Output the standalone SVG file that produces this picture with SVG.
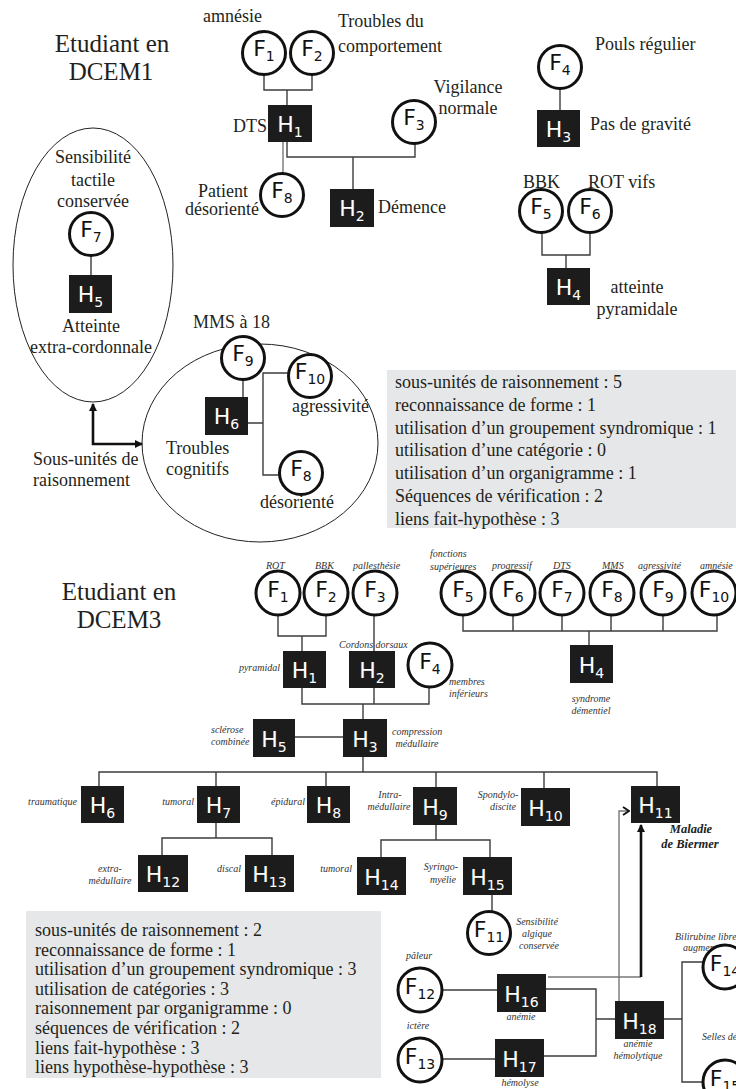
<svg xmlns="http://www.w3.org/2000/svg" width="736" height="1089" viewBox="0 0 736 1089">
<style>
.bg{fill:#fff}
.lbl{font-family:"Liberation Serif",serif;font-size:18px;fill:#231f20}
.ttl{font-size:25px}
.mid{text-anchor:middle}
.end{text-anchor:end}
.it{font-family:"Liberation Serif",serif;font-style:italic;font-size:10px;fill:#333}
.bi{font-family:"Liberation Serif",serif;font-style:italic;font-weight:bold;font-size:12.5px;fill:#222}
.hb{fill:#1c1c1c}
.ht{font-family:"DejaVu Sans",sans-serif;font-size:22px;fill:#fff;text-anchor:middle}
.fc{fill:#fff;stroke:#111;stroke-width:3}
.ft{font-family:"DejaVu Sans",sans-serif;font-size:22px;fill:#111;text-anchor:middle}
.sub{font-size:14px}
.ln{fill:none;stroke:#3c3c3c;stroke-width:1.4}
.gr{fill:none;stroke:#777;stroke-width:1.4}
.thick{fill:none;stroke:#111;stroke-width:2.6}
.cl{fill:none;stroke:#222;stroke-width:1}
.box{fill:#e6e7e8}
</style>
<defs>
<marker id="tri" viewBox="0 0 8 8" refX="7" refY="4" markerWidth="8" markerHeight="8" markerUnits="userSpaceOnUse" orient="auto-start-reverse"><path d="M0,0 L8,4 L0,8 z" fill="#111"/></marker>
<marker id="chev" viewBox="0 0 8 10" refX="7" refY="5" markerWidth="8" markerHeight="10" markerUnits="userSpaceOnUse" orient="auto"><path d="M1,1 L7,5 L1,9" fill="none" stroke="#111" stroke-width="1.8"/></marker>
</defs>
<rect class="bg" x="0" y="0" width="736" height="1089"/>

<!-- ===== DCEM1 ===== -->
<g id="title-dcem1">
<text class="lbl ttl mid" x="112" y="52">Etudiant en</text>
<text class="lbl ttl mid" x="111" y="80">DCEM1</text>
</g>
<g id="clusters-dcem1">
<ellipse class="cl" cx="93" cy="265" rx="80" ry="137"/>
<ellipse class="cl" cx="260" cy="443" rx="118" ry="99"/>
</g>

<g id="connectors">
<!-- DCEM1 -->
<path class="ln" d="M264,75 V90 H312 V75 M287,90 V105"/>
<path class="ln" d="M287,142 V157 H415 V143 M353,157 V189"/>
<path class="gr" d="M283,142 V173"/>
<path class="ln" d="M560,88 V110"/>
<path class="ln" d="M542,232 V255 H590 V232 M566,255 V268"/>
<path class="ln" d="M91,256 V275"/>
<path class="ln" d="M243,379 V397"/>
<path class="ln" d="M248,423 H263 M289,373 H263 V475 H280"/>
<path class="thick" d="M93,404 V444 H142" marker-start="url(#tri)" marker-end="url(#tri)"/>
<!-- DCEM3 -->
<path class="ln" d="M278,615 V636 H326 V615 M302,636 V651"/>
<path class="ln" d="M374,615 V651"/>
<path class="ln" d="M302,688 V704 H429 V687 M374,688 V704 M363,704 V719"/>
<path class="ln" d="M295,737 H343"/>
<path class="ln" d="M463,615 V631 H717 V615 M513,615 V631 M562,615 V631 M611,615 V631 M663,615 V631 M589,631 V645"/>
<path class="ln" d="M363,757 V772 M99,786 V772 H657 V786 M216,772 V786 M326,772 V786 M436,772 V787 M544,772 V788"/>
<path class="ln" d="M216,823 V838 M162,855 V838 H272 V855"/>
<path class="ln" d="M436,825 V840 M381,857 V840 H490 V857"/>
<path class="ln" d="M492,895 V911"/>
<path class="ln" d="M442,990 H497"/>
<path class="ln" d="M442,1059 H495"/>
<path class="ln" d="M546,989 H596 V1056 H544 M596,1019 H615"/>
<path class="ln" d="M664,1019 H682 M703,962 H682 V1082 H703"/>
<path class="gr" d="M619,1001 V811 H629" marker-end="url(#chev)"/>
<path class="gr" d="M548,977 H641"/>
<path class="thick" d="M641,977 V825" marker-end="url(#tri)"/>
</g>

<g id="d1-F1"><circle class="fc" cx="264" cy="53" r="21.5"/><text class="ft" x="264" y="56">F<tspan class="sub" dy="5">1</tspan></text><text class="lbl" x="203" y="22">amnésie</text></g>
<g id="d1-F2"><circle class="fc" cx="312" cy="53" r="21.5"/><text class="ft" x="312" y="56">F<tspan class="sub" dy="5">2</tspan></text><text class="lbl" x="338" y="27">Troubles du</text><text class="lbl" x="338" y="52">comportement</text></g>
<g id="d1-H1"><rect class="hb" x="268" y="105" width="44" height="37"/><text class="ht" x="290" y="132">H<tspan class="sub" dy="5">1</tspan></text><text class="lbl" x="233" y="132">DTS</text></g>
<g id="d1-F3"><circle class="fc" cx="414" cy="122" r="21.5"/><text class="ft" x="414" y="125">F<tspan class="sub" dy="5">3</tspan></text><text class="lbl mid" x="468" y="93">Vigilance</text><text class="lbl mid" x="468" y="114">normale</text></g>
<g id="d1-F8a"><circle class="fc" cx="282" cy="195" r="21.5"/><text class="ft" x="282" y="198">F<tspan class="sub" dy="5">8</tspan></text><text class="lbl mid" x="223" y="197">Patient</text><text class="lbl mid" x="222" y="215">désorienté</text></g>
<g id="d1-H2"><rect class="hb" x="330" y="189" width="44" height="38"/><text class="ht" x="352" y="216">H<tspan class="sub" dy="5">2</tspan></text><text class="lbl" x="378" y="213">Démence</text></g>
<g id="d1-F4"><circle class="fc" cx="560" cy="67" r="21.5"/><text class="ft" x="560" y="70">F<tspan class="sub" dy="5">4</tspan></text><text class="lbl" x="595" y="50">Pouls régulier</text></g>
<g id="d1-H3"><rect class="hb" x="537" y="110" width="43" height="37"/><text class="ht" x="558.5" y="137">H<tspan class="sub" dy="5">3</tspan></text><text class="lbl" x="590" y="130">Pas de gravité</text></g>
<g id="d1-F5"><circle class="fc" cx="541" cy="211" r="21.5"/><text class="ft" x="541" y="214">F<tspan class="sub" dy="5">5</tspan></text><text class="lbl" x="523" y="188">BBK</text></g>
<g id="d1-F6"><circle class="fc" cx="590" cy="211" r="21.5"/><text class="ft" x="590" y="214">F<tspan class="sub" dy="5">6</tspan></text><text class="lbl" x="588" y="188">ROT vifs</text></g>
<g id="d1-H4"><rect class="hb" x="547" y="268" width="43" height="37"/><text class="ht" x="568.5" y="295">H<tspan class="sub" dy="5">4</tspan></text><text class="lbl mid" x="637" y="293">atteinte</text><text class="lbl mid" x="637" y="315">pyramidale</text></g>
<g id="d1-F7"><circle class="fc" cx="91" cy="234" r="21.5"/><text class="ft" x="91" y="237">F<tspan class="sub" dy="5">7</tspan></text><text class="lbl mid" x="93" y="163">Sensibilité</text><text class="lbl mid" x="93" y="186">tactile</text><text class="lbl mid" x="93" y="207">conservée</text></g>
<g id="d1-H5"><rect class="hb" x="69" y="275" width="43" height="38"/><text class="ht" x="90.5" y="302">H<tspan class="sub" dy="5">5</tspan></text><text class="lbl mid" x="91" y="332">Atteinte</text><text class="lbl mid" x="91" y="353">extra-cordonnale</text></g>
<g id="d1-F9"><circle class="fc" cx="243" cy="358" r="21.5"/><text class="ft" x="243" y="361">F<tspan class="sub" dy="5">9</tspan></text><text class="lbl" x="193" y="328">MMS à 18</text></g>
<g id="d1-H6"><rect class="hb" x="205" y="397" width="43" height="38"/><text class="ht" x="226.5" y="424">H<tspan class="sub" dy="5">6</tspan></text><text class="lbl" x="166" y="454">Troubles</text><text class="lbl" x="166" y="475">cognitifs</text></g>
<g id="d1-F10"><circle class="fc" cx="310" cy="376" r="21.5"/><text class="ft" x="310" y="379">F<tspan class="sub" dy="5">10</tspan></text><text class="lbl" x="292" y="412">agressivité</text></g>
<g id="d1-F8b"><circle class="fc" cx="301" cy="473" r="21.5"/><text class="ft" x="301" y="476">F<tspan class="sub" dy="5">8</tspan></text><text class="lbl" x="260" y="508">désorienté</text></g>
<g id="d1-subunits"><text class="lbl" x="33" y="465">Sous-unités de</text><text class="lbl" x="33" y="486">raisonnement</text></g>

<g id="d1-summary">
<rect class="box" x="387" y="370" width="349" height="158"/>
<text class="lbl" x="395" y="388">sous-unités de raisonnement : 5</text>
<text class="lbl" x="395" y="410.8">reconnaissance de forme : 1</text>
<text class="lbl" x="395" y="433.6">utilisation d’un groupement syndromique : 1</text>
<text class="lbl" x="395" y="456.4">utilisation d’une catégorie : 0</text>
<text class="lbl" x="395" y="479.2">utilisation d’un organigramme : 1</text>
<text class="lbl" x="395" y="502">Séquences de vérification : 2</text>
<text class="lbl" x="395" y="524.8">liens fait-hypothèse : 3</text>
</g>

<!-- ===== DCEM3 ===== -->
<g id="title-dcem3">
<text class="lbl ttl mid" x="119" y="600">Etudiant en</text>
<text class="lbl ttl mid" x="119" y="628">DCEM3</text>
</g>
<g id="d3-F1"><circle class="fc" cx="278" cy="593" r="22"/><text class="ft" x="278" y="597">F<tspan class="sub" dy="5">1</tspan></text><text class="it" x="266" y="569">ROT</text></g>
<g id="d3-F2"><circle class="fc" cx="326" cy="593" r="22"/><text class="ft" x="326" y="597">F<tspan class="sub" dy="5">2</tspan></text><text class="it" x="315" y="569">BBK</text></g>
<g id="d3-F3"><circle class="fc" cx="375" cy="593" r="22"/><text class="ft" x="375" y="597">F<tspan class="sub" dy="5">3</tspan></text><text class="it" x="353" y="569">pallesthésie</text></g>
<g id="d3-H1"><rect class="hb" x="283" y="651" width="43" height="37"/><text class="ht" x="304.5" y="678">H<tspan class="sub" dy="5">1</tspan></text><text class="it end" x="280" y="671">pyramidal</text></g>
<g id="d3-H2"><rect class="hb" x="349" y="651" width="46" height="37"/><text class="ht" x="372" y="678">H<tspan class="sub" dy="5">2</tspan></text><text class="it" x="339" y="648">Cordons dorsaux</text></g>
<g id="d3-F4"><circle class="fc" cx="430" cy="665" r="22"/><text class="ft" x="430" y="669">F<tspan class="sub" dy="5">4</tspan></text><text class="it" x="449" y="685">membres</text><text class="it" x="449" y="697">inférieurs</text></g>
<g id="d3-F5"><circle class="fc" cx="463" cy="593" r="22"/><text class="ft" x="463" y="597">F<tspan class="sub" dy="5">5</tspan></text><text class="it" x="430" y="557">fonctions</text><text class="it" x="430" y="570">supérieures</text></g>
<g id="d3-F6"><circle class="fc" cx="513" cy="593" r="22"/><text class="ft" x="513" y="597">F<tspan class="sub" dy="5">6</tspan></text><text class="it" x="492" y="569">progressif</text></g>
<g id="d3-F7"><circle class="fc" cx="562" cy="593" r="22"/><text class="ft" x="562" y="597">F<tspan class="sub" dy="5">7</tspan></text><text class="it" x="553" y="569">DTS</text></g>
<g id="d3-F8"><circle class="fc" cx="612" cy="593" r="22"/><text class="ft" x="612" y="597">F<tspan class="sub" dy="5">8</tspan></text><text class="it" x="602" y="569">MMS</text></g>
<g id="d3-F9"><circle class="fc" cx="663" cy="593" r="22"/><text class="ft" x="663" y="597">F<tspan class="sub" dy="5">9</tspan></text><text class="it" x="638" y="569">agressivité</text></g>
<g id="d3-F10"><circle class="fc" cx="714" cy="593" r="22"/><text class="ft" x="714" y="597">F<tspan class="sub" dy="5">10</tspan></text><text class="it" x="700" y="569">amnésie</text></g>
<g id="d3-H4"><rect class="hb" x="570" y="645" width="43" height="38"/><text class="ht" x="591.5" y="673">H<tspan class="sub" dy="5">4</tspan></text><text class="it mid" x="591" y="702">syndrome</text><text class="it mid" x="591" y="714">démentiel</text></g>
<g id="d3-H5"><rect class="hb" x="253" y="719" width="42" height="38"/><text class="ht" x="274" y="747">H<tspan class="sub" dy="5">5</tspan></text><text class="it" x="211" y="733">sclérose</text><text class="it" x="211" y="745">combinée</text></g>
<g id="d3-H3"><rect class="hb" x="343" y="719" width="44" height="38"/><text class="ht" x="365" y="747">H<tspan class="sub" dy="5">3</tspan></text><text class="it" x="392" y="735">compression</text><text class="it mid" x="417" y="747">médullaire</text></g>
<g id="d3-H6"><rect class="hb" x="81" y="786" width="43" height="37"/><text class="ht" x="102.5" y="813">H<tspan class="sub" dy="5">6</tspan></text><text class="it end" x="77" y="805">traumatique</text></g>
<g id="d3-H7"><rect class="hb" x="197" y="786" width="43" height="37"/><text class="ht" x="218.5" y="813">H<tspan class="sub" dy="5">7</tspan></text><text class="it end" x="194" y="805">tumoral</text></g>
<g id="d3-H8"><rect class="hb" x="307" y="786" width="43" height="37"/><text class="ht" x="328.5" y="813">H<tspan class="sub" dy="5">8</tspan></text><text class="it end" x="305" y="805">épidural</text></g>
<g id="d3-H9"><rect class="hb" x="413" y="787" width="44" height="38"/><text class="ht" x="435" y="815">H<tspan class="sub" dy="5">9</tspan></text><text class="it mid" x="390" y="798">Intra-</text><text class="it mid" x="389" y="810">médullaire</text></g>
<g id="d3-H10"><rect class="hb" x="521" y="788" width="49" height="38"/><text class="ht" x="545.5" y="816">H<tspan class="sub" dy="5">10</tspan></text><text class="it mid" x="498" y="798">Spondylo-</text><text class="it mid" x="503" y="810">discite</text></g>
<g id="d3-H11"><rect class="hb" x="631" y="786" width="49" height="37"/><text class="ht" x="655.5" y="813">H<tspan class="sub" dy="5">11</tspan></text><text class="bi mid" x="691" y="833">Maladie</text><text class="bi mid" x="690" y="848">de Biermer</text></g>
<g id="d3-H12"><rect class="hb" x="138" y="855" width="50" height="37"/><text class="ht" x="163" y="882">H<tspan class="sub" dy="5">12</tspan></text><text class="it mid" x="110" y="872">extra-</text><text class="it mid" x="110" y="884">médullaire</text></g>
<g id="d3-H13"><rect class="hb" x="245" y="855" width="49" height="37"/><text class="ht" x="269.5" y="882">H<tspan class="sub" dy="5">13</tspan></text><text class="it end" x="241" y="872">discal</text></g>
<g id="d3-H14"><rect class="hb" x="357" y="857" width="49" height="38"/><text class="ht" x="381.5" y="885">H<tspan class="sub" dy="5">14</tspan></text><text class="it end" x="352" y="872">tumoral</text></g>
<g id="d3-H15"><rect class="hb" x="463" y="857" width="49" height="38"/><text class="ht" x="487.5" y="885">H<tspan class="sub" dy="5">15</tspan></text><text class="it mid" x="441" y="870">Syringo-</text><text class="it mid" x="443" y="883">myélie</text></g>
<g id="d3-F11"><circle class="fc" cx="489" cy="933" r="21.5"/><text class="ft" x="489" y="937">F<tspan class="sub" dy="5">11</tspan></text><text class="it mid" x="537" y="925">Sensibilité</text><text class="it mid" x="537" y="937">algique</text><text class="it mid" x="539" y="949">conservée</text></g>
<g id="d3-F12"><circle class="fc" cx="420" cy="990" r="22"/><text class="ft" x="420" y="994">F<tspan class="sub" dy="5">12</tspan></text><text class="it mid" x="419" y="959">pâleur</text></g>
<g id="d3-F13"><circle class="fc" cx="420" cy="1060" r="22"/><text class="ft" x="420" y="1064">F<tspan class="sub" dy="5">13</tspan></text><text class="it mid" x="418" y="1029">ictère</text></g>
<g id="d3-H16"><rect class="hb" x="497" y="974" width="49" height="38"/><text class="ht" x="521.5" y="1002">H<tspan class="sub" dy="5">16</tspan></text><text class="it mid" x="521" y="1020">anémie</text></g>
<g id="d3-H17"><rect class="hb" x="495" y="1039" width="49" height="38"/><text class="ht" x="519.5" y="1067">H<tspan class="sub" dy="5">17</tspan></text><text class="it mid" x="520" y="1086">hémolyse</text></g>
<g id="d3-H18"><rect class="hb" x="615" y="1001" width="49" height="38"/><text class="ht" x="639.5" y="1029">H<tspan class="sub" dy="5">18</tspan></text><text class="it mid" x="638" y="1047">anémie</text><text class="it mid" x="638" y="1059">hémolytique</text></g>
<g id="d3-F14"><text class="it" x="675" y="940">Bilirubine libre</text><text class="it" x="683" y="951">augmentée</text><circle class="fc" cx="725" cy="967" r="22"/><text class="ft" x="725" y="971">F<tspan class="sub" dy="5">14</tspan></text></g>
<g id="d3-F15"><text class="it" x="702" y="1040">Selles dé</text><circle class="fc" cx="725" cy="1082" r="22"/><text class="ft" x="725" y="1086">F<tspan class="sub" dy="5">15</tspan></text></g>

<g id="d3-summary">
<rect class="box" x="26" y="911" width="355" height="167"/>
<text class="lbl" x="35" y="936">sous-unités de raisonnement : 2</text>
<text class="lbl" x="35" y="955.6">reconnaissance de forme : 1</text>
<text class="lbl" x="35" y="975.2">utilisation d’un groupement syndromique : 3</text>
<text class="lbl" x="35" y="994.8">utilisation de catégories : 3</text>
<text class="lbl" x="35" y="1014.4">raisonnement par organigramme : 0</text>
<text class="lbl" x="35" y="1034">séquences de vérification : 2</text>
<text class="lbl" x="35" y="1053.6">liens fait-hypothèse : 3</text>
<text class="lbl" x="35" y="1073.2">liens hypothèse-hypothèse : 3</text>
</g>
</svg>
